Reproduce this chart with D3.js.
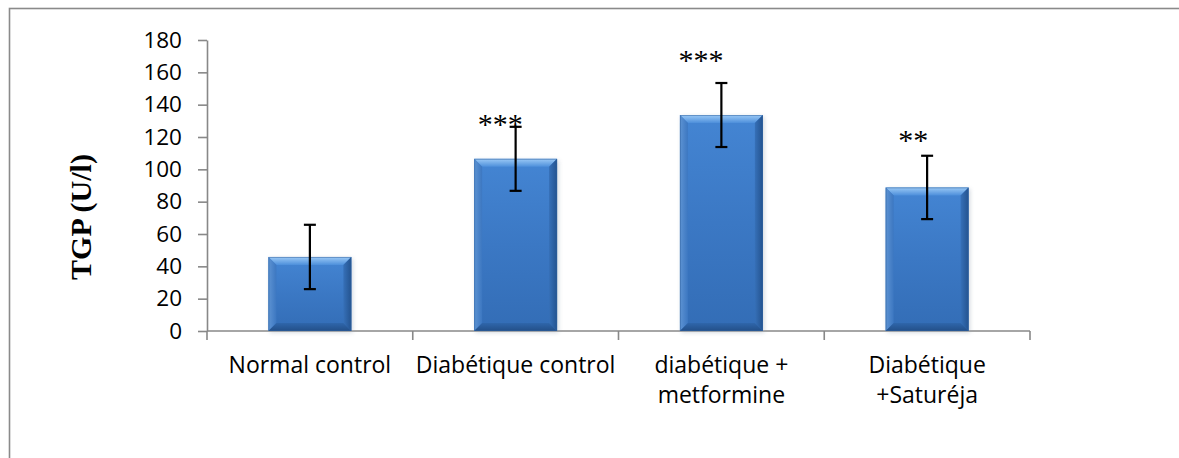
<!DOCTYPE html>
<html>
<head>
<meta charset="utf-8">
<script src="https://cdn.jsdelivr.net/npm/d3@7"></script>
<style>
  html, body { margin: 0; padding: 0; background: #fff; }
  svg { display: block; }
</style>
</head>
<body>
<svg id="chart" width="1179" height="458"></svg>
<script>
// Serum TGP (ALT) per treatment group, mean ± error
const groups = [
  ["Normal control"],
  ["Diabétique control"],
  ["diabétique +", "metformine"],
  ["Diabétique", "+Saturéja"]
];
const means = [45.8, 106.5, 133.6, 88.8];
const errors = [19.9, 19.8, 19.8, 19.6];
const significance = ["", "***", "***", "**"];
const yTicks = [0, 20, 40, 60, 80, 100, 120, 140, 160, 180];
const yTitle = "TGP (U/l)";

// layout
const W = 1179, H = 458;
const plot = { left: 207, right: 1030, top: 40, bottom: 331 };
// hand-placed star labels: [dx from bar centre, dy from error-bar top]
const starNudge = [[0, 0], [7, 7], [2, -13], [1, -6]];

const svg = d3.select("#chart");

// outer chart frame (runs past the right / bottom edges)
svg.append("rect")
  .attr("x", 9.5).attr("y", 8.5)
  .attr("width", 1300).attr("height", 600)
  .attr("fill", "#fff")
  .attr("stroke", "#8a8a8a").attr("stroke-width", 1.6);

const x = d3.scaleBand()
  .domain(d3.range(groups.length))
  .range([plot.left, plot.right])
  .paddingInner(0.597).paddingOuter(0.2985);

const y = d3.scaleLinear()
  .domain([0, 180])
  .range([plot.bottom, plot.top]);

// gradients for the bevelled bars
const defs = svg.append("defs");
const body = defs.append("linearGradient").attr("id", "barBody")
  .attr("x1", 0).attr("y1", 0).attr("x2", 0).attr("y2", 1);
body.append("stop").attr("offset", "0%").attr("stop-color", "#4485d3");
body.append("stop").attr("offset", "50%").attr("stop-color", "#3b78c4");
body.append("stop").attr("offset", "100%").attr("stop-color", "#336db6");

const topBevel = defs.append("linearGradient").attr("id", "barTop")
  .attr("x1", 0).attr("y1", 0).attr("x2", 0).attr("y2", 1);
topBevel.append("stop").attr("offset", "0%").attr("stop-color", "#9ccaf6");
topBevel.append("stop").attr("offset", "100%").attr("stop-color", "#4d8fdb");

const leftBevel = defs.append("linearGradient").attr("id", "barLeft")
  .attr("x1", 0).attr("y1", 0).attr("x2", 1).attr("y2", 0);
leftBevel.append("stop").attr("offset", "0%").attr("stop-color", "#5d93d3");
leftBevel.append("stop").attr("offset", "100%").attr("stop-color", "#3c77c1");

const rightBevel = defs.append("linearGradient").attr("id", "barRight")
  .attr("x1", 0).attr("y1", 0).attr("x2", 1).attr("y2", 0);
rightBevel.append("stop").attr("offset", "0%").attr("stop-color", "#3670b8");
rightBevel.append("stop").attr("offset", "100%").attr("stop-color", "#24538f");

const bottomBevel = defs.append("linearGradient").attr("id", "barBottom")
  .attr("x1", 0).attr("y1", 0).attr("x2", 0).attr("y2", 1);
bottomBevel.append("stop").attr("offset", "0%").attr("stop-color", "#2f66ab");
bottomBevel.append("stop").attr("offset", "100%").attr("stop-color", "#234f88");

const shadow = defs.append("filter").attr("id", "soft")
  .attr("x", "-20%").attr("y", "-20%").attr("width", "140%").attr("height", "140%");
shadow.append("feGaussianBlur").attr("stdDeviation", 2);

// y axis
const yAxis = d3.axisLeft(y).tickValues(yTicks).tickSize(9).tickPadding(16).tickSizeOuter(0);
const gy = svg.append("g").attr("transform", `translate(${plot.left},0)`).call(yAxis);
gy.select(".domain").attr("stroke", "#888").attr("stroke-width", 1.6);
gy.selectAll(".tick line").attr("stroke", "#888").attr("stroke-width", 1.6);
gy.selectAll(".tick text")
  .attr("fill", "#000")
  .style("font-family", "'Open Sans', sans-serif")
  .style("font-size", "22.5px");

// x axis line with category separators
const gx = svg.append("g").attr("transform", `translate(0,${plot.bottom})`);
gx.append("line")
  .attr("x1", plot.left).attr("x2", plot.right)
  .attr("stroke", "#888").attr("stroke-width", 1.6);
const sepPositions = d3.range(groups.length + 1)
  .map(i => i < groups.length ? x(i) - x.step() * x.paddingInner() / 2 : plot.right);
sepPositions[0] = plot.left;
gx.selectAll("line.sep").data(sepPositions).join("line")
  .attr("class", "sep")
  .attr("x1", d => d).attr("x2", d => d)
  .attr("y1", 0).attr("y2", 9)
  .attr("stroke", "#888").attr("stroke-width", 1.6);

// bars
const bw = x.bandwidth();
const bev = 8;
const bars = svg.append("g").selectAll("g.bar").data(means).join("g").attr("class", "bar");
bars.each(function(d, i) {
  const g = d3.select(this);
  const x0 = x(i), x1 = x0 + bw, y0 = y(d), y1 = y(0);
  const b = Math.min(bev, (y1 - y0) / 2);
  g.append("rect")
    .attr("x", x0 + 1.5).attr("y", y0 + 1.5).attr("width", bw).attr("height", y1 - y0)
    .attr("fill", "#9aa7b8").attr("opacity", 0.45).attr("filter", "url(#soft)");
  g.append("rect")
    .attr("x", x0).attr("y", y0).attr("width", bw).attr("height", y1 - y0)
    .attr("fill", "url(#barBody)");
  const poly = (pts, fill) => g.append("polygon")
    .attr("points", pts.map(p => p.join(",")).join(" ")).attr("fill", fill);
  poly([[x0, y0], [x1, y0], [x1 - b, y0 + b], [x0 + b, y0 + b]], "url(#barTop)");
  poly([[x0, y0], [x0 + b, y0 + b], [x0 + b, y1 - b], [x0, y1]], "url(#barLeft)");
  poly([[x1, y0], [x1, y1], [x1 - b, y1 - b], [x1 - b, y0 + b]], "url(#barRight)");
  poly([[x0, y1], [x0 + b, y1 - b], [x1 - b, y1 - b], [x1, y1]], "url(#barBottom)");
  g.append("rect")
    .attr("x", x0 + 0.5).attr("y", y0 + 0.5).attr("width", bw - 1).attr("height", y1 - y0 - 1)
    .attr("fill", "none").attr("stroke", "#2d5f9e").attr("stroke-opacity", 0.5);
});

// error bars
const eb = svg.append("g").attr("stroke", "#000").attr("stroke-width", 2.2).attr("fill", "none");
means.forEach((m, i) => {
  const cx = x(i) + bw / 2;
  const hi = y(m + errors[i]), lo = y(m - errors[i]);
  eb.append("line").attr("x1", cx).attr("x2", cx).attr("y1", hi).attr("y2", lo);
  eb.append("line").attr("x1", cx - 6).attr("x2", cx + 6).attr("y1", hi).attr("y2", hi);
  eb.append("line").attr("x1", cx - 6).attr("x2", cx + 6).attr("y1", lo).attr("y2", lo);
});

// significance stars
svg.append("g").selectAll("text").data(significance).join("text")
  .attr("x", (d, i) => x(i) + bw / 2 + starNudge[i][0])
  .attr("y", (d, i) => y(means[i] + errors[i]) + starNudge[i][1])
  .attr("text-anchor", "end")
  .style("font-family", "'Liberation Serif', 'Times New Roman', serif")
  .style("font-size", "30px")
  .attr("fill", "#000")
  .text(d => d);

// category labels
const cat = svg.append("g")
  .style("font-family", "'Open Sans', sans-serif")
  .style("font-size", "23px")
  .attr("fill", "#000")
  .attr("text-anchor", "middle");
groups.forEach((lines, i) => {
  const t = cat.append("text").attr("x", x(i) + bw / 2).attr("y", 373);
  lines.forEach((ln, k) => {
    t.append("tspan").attr("x", x(i) + bw / 2).attr("dy", k === 0 ? 0 : 30).text(ln);
  });
});

// y axis title
svg.append("text")
  .attr("transform", `translate(91,217) rotate(-90)`)
  .attr("text-anchor", "middle")
  .style("font-family", "'Liberation Serif', 'Times New Roman', serif")
  .style("font-weight", "bold")
  .style("font-size", "30px")
  .attr("fill", "#000")
  .text(yTitle);
</script>
</body>
</html>
